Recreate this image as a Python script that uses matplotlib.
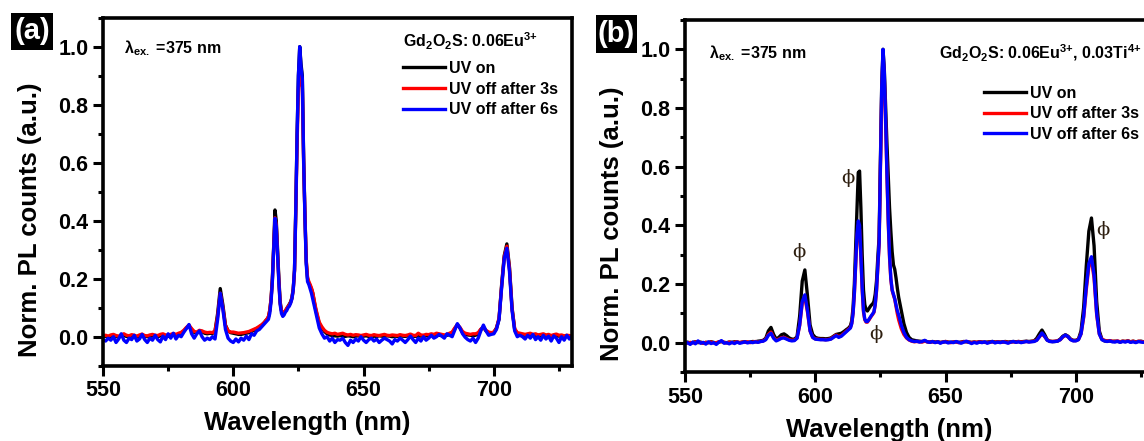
import numpy as np
import matplotlib
matplotlib.use("Agg")
import matplotlib.pyplot as plt
from matplotlib.patches import Rectangle
from matplotlib.ticker import MultipleLocator, FormatStrFormatter

plt.rcParams['font.family'] = ['Liberation Sans', 'DejaVu Sans']
plt.rcParams['font.weight'] = 'bold'
plt.rcParams['mathtext.default'] = 'regular'
plt.rcParams['axes.linewidth'] = 2.6

# Spectrometer sampling grid (nm): 1 nm steps, 0.5 nm across the 612-632 nm band
wavelength = np.concatenate([np.arange(550, 612.1, 1.0),
                             np.arange(612.5, 632.1, 0.5),
                             np.arange(633, 730.1, 1.0)])

series_labels = ['UV on', 'UV off after 3s', 'UV off after 6s']
series_colors = ['#000000', '#ff0000', '#0000ff']

# ---- (a) Gd2O2S:0.06Eu3+ ----
a_uv_on = [
    0.000, 0.002, -0.002, 0.001, 0.003, 0.000, -0.001, 0.002, 0.004, 0.001,
    0.000, 0.003, 0.002, -0.001, 0.001, 0.004, 0.002, 0.000, 0.001, 0.003,
    0.002, 0.000, 0.003, 0.005, 0.002, 0.001, 0.003, 0.006, 0.004, 0.008,
    0.012, 0.020, 0.030, 0.038, 0.025, 0.015, 0.012, 0.020, 0.018, 0.012,
    0.010, 0.012, 0.011, 0.020, 0.080, 0.166, 0.110, 0.040, 0.020, 0.014,
    0.012, 0.010, 0.008, 0.008, 0.010, 0.012, 0.014, 0.018, 0.022, 0.028,
    0.033, 0.040, 0.050,
    0.056, 0.060, 0.068, 0.090, 0.130, 0.200, 0.310, 0.437, 0.400, 0.300,
    0.200, 0.120, 0.090, 0.076, 0.080, 0.088, 0.096, 0.104, 0.112, 0.120,
    0.135, 0.165, 0.230, 0.450, 0.700, 0.900, 1.000, 0.940, 0.900, 0.620,
    0.420, 0.260, 0.200, 0.185, 0.175, 0.165, 0.150, 0.125, 0.100, 0.080,
    0.045, 0.030, 0.018, 0.010, 0.006, 0.004, 0.003, 0.002, 0.004, 0.002,
    0.001, 0.003, 0.002, 0.000, 0.002, 0.003, 0.001, 0.002, 0.003, 0.001,
    0.000, 0.002, 0.001, 0.003, 0.002, 0.001, 0.003, 0.002, 0.000, 0.002,
    0.001, 0.003, 0.002, 0.001, 0.003, 0.004, 0.002, 0.001, 0.003, 0.002,
    0.004, 0.003, 0.002, 0.005, 0.004, 0.006, 0.005, 0.004, 0.003, 0.005,
    0.007, 0.012, 0.028, 0.042, 0.030, 0.014, 0.008, 0.006, 0.005, 0.004,
    0.005, 0.010, 0.025, 0.032, 0.020, 0.012, 0.012, 0.015, 0.030, 0.060,
    0.180, 0.280, 0.320, 0.240, 0.100, 0.025, 0.010, 0.008, 0.006, 0.005,
    0.006, 0.004, 0.005, 0.003, 0.005, 0.004, 0.006, 0.003, 0.004, 0.002,
    0.004, 0.003, 0.002, 0.003, 0.001, 0.003, 0.002, 0.001,
]
a_off_3s = [
    0.003, 0.005, 0.002, 0.006, 0.008, 0.004, 0.002, 0.006, 0.010, 0.005,
    0.003, 0.007, 0.005, 0.002, 0.006, 0.009, 0.004, 0.003, 0.006, 0.008,
    0.005, 0.004, 0.008, 0.010, 0.006, 0.005, 0.008, 0.011, 0.008, 0.012,
    0.015, 0.022, 0.032, 0.040, 0.028, 0.018, 0.016, 0.022, 0.020, 0.016,
    0.014, 0.015, 0.014, 0.020, 0.070, 0.150, 0.100, 0.038, 0.020, 0.016,
    0.016, 0.014, 0.012, 0.013, 0.014, 0.016, 0.018, 0.022, 0.026, 0.030,
    0.036, 0.042, 0.050,
    0.056, 0.062, 0.070, 0.092, 0.130, 0.195, 0.300, 0.410, 0.385, 0.290,
    0.190, 0.115, 0.090, 0.080, 0.084, 0.090, 0.098, 0.104, 0.110, 0.118,
    0.132, 0.160, 0.225, 0.430, 0.670, 0.850, 0.930, 0.880, 0.860, 0.600,
    0.420, 0.265, 0.205, 0.190, 0.180, 0.168, 0.152, 0.128, 0.105, 0.085,
    0.050, 0.034, 0.022, 0.015, 0.012, 0.010, 0.012, 0.008, 0.010, 0.012,
    0.008, 0.006, 0.008, 0.005, 0.007, 0.006, 0.004, 0.006, 0.008, 0.005,
    0.004, 0.007, 0.005, 0.004, 0.006, 0.008, 0.005, 0.004, 0.006, 0.005,
    0.004, 0.007, 0.005, 0.004, 0.006, 0.009, 0.005, 0.004, 0.012, 0.006,
    0.005, 0.008, 0.007, 0.010, 0.008, 0.012, 0.010, 0.008, 0.006, 0.008,
    0.012, 0.016, 0.030, 0.040, 0.032, 0.018, 0.012, 0.010, 0.008, 0.010,
    0.010, 0.014, 0.026, 0.032, 0.022, 0.016, 0.014, 0.016, 0.028, 0.065,
    0.175, 0.275, 0.312, 0.235, 0.095, 0.028, 0.014, 0.012, 0.010, 0.008,
    0.010, 0.012, 0.008, 0.010, 0.006, 0.008, 0.010, 0.006, 0.008, 0.004,
    0.007, 0.009, 0.005, 0.006, 0.003, 0.005, 0.004, 0.002,
]
a_off_6s = [
    -0.010, -0.015, -0.005, -0.012, 0.000, -0.020, -0.008, 0.010, -0.012, -0.020,
    -0.005, -0.010, 0.005, -0.015, -0.008, 0.008, -0.010, -0.020, -0.005, -0.012,
    0.005, -0.010, -0.018, 0.002, -0.010, 0.010, -0.005, 0.012, -0.008, 0.005,
    0.000, 0.015, 0.028, 0.042, 0.010, -0.005, 0.010, 0.020, 0.000, -0.012,
    -0.005, -0.010, 0.000, -0.008, 0.060, 0.150, 0.095, 0.025, -0.005, -0.015,
    -0.020, -0.008, -0.018, -0.005, -0.012, 0.002, -0.010, 0.010, 0.005, 0.020,
    0.025, 0.035, 0.045,
    0.050, 0.055, 0.060, 0.080, 0.120, 0.190, 0.300, 0.408, 0.380, 0.285,
    0.185, 0.110, 0.080, 0.070, 0.075, 0.085, 0.090, 0.100, 0.105, 0.115,
    0.130, 0.160, 0.230, 0.440, 0.700, 0.900, 1.000, 0.930, 0.890, 0.610,
    0.410, 0.250, 0.190, 0.180, 0.165, 0.150, 0.130, 0.110, 0.090, 0.070,
    0.030, 0.010, -0.005, 0.000, -0.015, -0.005, -0.020, -0.010, -0.012, -0.005,
    -0.020, -0.030, -0.012, -0.020, -0.008, -0.015, 0.000, -0.012, -0.020, -0.010,
    -0.005, -0.015, -0.008, -0.020, -0.012, -0.005, -0.010, -0.015, -0.025, -0.010,
    -0.015, -0.005, -0.012, -0.020, -0.010, 0.002, -0.010, -0.020, -0.005, -0.015,
    0.000, -0.012, -0.005, 0.005, -0.005, 0.000, 0.008, 0.002, -0.005, 0.010,
    0.005, 0.000, 0.022, 0.045, 0.030, 0.010, -0.002, -0.010, -0.015, -0.005,
    -0.020, -0.005, 0.020, 0.040, 0.020, 0.005, 0.008, 0.010, 0.025, 0.060,
    0.170, 0.270, 0.305, 0.225, 0.090, 0.020, 0.000, 0.005, 0.000, -0.008,
    0.005, -0.005, 0.008, -0.010, 0.000, -0.012, 0.005, -0.008, 0.002, -0.015,
    0.003, -0.005, -0.020, 0.000, -0.012, 0.005, -0.008, 0.002,
]

# ---- (b) Gd2O2S:0.06Eu3+, 0.03Ti4+ ----
b_uv_on = [
    0.000, 0.002, -0.003, 0.001, 0.003, 0.000, 0.002, -0.002, 0.001, 0.000,
    0.003, 0.001, -0.002, 0.002, 0.004, 0.001, 0.000, 0.002, 0.001, 0.003,
    0.002, 0.000, 0.002, 0.003, 0.001, 0.002, 0.004, 0.003, 0.005, 0.006,
    0.008, 0.015, 0.040, 0.052, 0.028, 0.012, 0.018, 0.027, 0.030, 0.024,
    0.016, 0.012, 0.012, 0.020, 0.090, 0.210, 0.248, 0.160, 0.060, 0.028,
    0.018, 0.015, 0.014, 0.014, 0.013, 0.014, 0.016, 0.022, 0.028, 0.030,
    0.032, 0.038, 0.045,
    0.048, 0.052, 0.058, 0.075, 0.120, 0.200, 0.330, 0.470, 0.580, 0.585,
    0.460, 0.300, 0.180, 0.130, 0.112, 0.108, 0.115, 0.122, 0.128, 0.132,
    0.140, 0.165, 0.210, 0.290, 0.360, 0.620, 0.880, 1.000, 0.930, 0.800,
    0.680, 0.570, 0.460, 0.380, 0.310, 0.265, 0.250, 0.220, 0.185, 0.155,
    0.110, 0.065, 0.035, 0.018, 0.010, 0.008, 0.006, 0.005, 0.004, 0.006,
    0.003, 0.002, 0.004, 0.002, 0.003, 0.001, 0.002, 0.004, 0.002, 0.001,
    0.002, 0.003, 0.001, 0.002, 0.004, 0.003, 0.002, 0.001, 0.002, 0.001,
    0.003, 0.002, 0.001, 0.002, 0.003, 0.004, 0.002, 0.003, 0.002, 0.003,
    0.004, 0.002, 0.003, 0.004, 0.003, 0.004, 0.003, 0.004, 0.005, 0.004,
    0.005, 0.006, 0.015, 0.030, 0.043, 0.028, 0.010, 0.005, 0.004, 0.004,
    0.006, 0.012, 0.022, 0.027, 0.022, 0.012, 0.008, 0.008, 0.012, 0.040,
    0.120, 0.260, 0.380, 0.425, 0.330, 0.140, 0.040, 0.012, 0.006, 0.005,
    0.006, 0.004, 0.005, 0.004, 0.003, 0.005, 0.004, 0.006, 0.003, 0.005,
    0.003, 0.004, 0.005, 0.003, 0.004, 0.002, 0.003, 0.004,
]
b_off_3s = [
    0.000, -0.002, 0.001, -0.001, 0.002, 0.003, 0.000, -0.002, 0.001, 0.000,
    0.002, -0.001, 0.000, 0.003, 0.004, 0.001, -0.001, 0.002, 0.000, 0.001,
    0.003, 0.000, 0.002, 0.001, 0.003, 0.000, 0.002, 0.004, 0.002, 0.004,
    0.006, 0.012, 0.028, 0.036, 0.018, 0.008, 0.012, 0.017, 0.018, 0.014,
    0.010, 0.008, 0.009, 0.016, 0.058, 0.135, 0.155, 0.105, 0.040, 0.018,
    0.013, 0.012, 0.011, 0.011, 0.010, 0.011, 0.013, 0.020, 0.026, 0.021,
    0.024, 0.032, 0.040,
    0.044, 0.048, 0.052, 0.066, 0.100, 0.165, 0.260, 0.360, 0.400, 0.385,
    0.290, 0.180, 0.105, 0.078, 0.070, 0.070, 0.076, 0.083, 0.090, 0.096,
    0.103, 0.128, 0.175, 0.255, 0.335, 0.590, 0.850, 0.980, 0.900, 0.745,
    0.570, 0.410, 0.290, 0.215, 0.178, 0.162, 0.148, 0.122, 0.098, 0.078,
    0.048, 0.028, 0.016, 0.009, 0.005, 0.003, 0.004, 0.003, 0.002, 0.005,
    0.003, 0.002, 0.003, 0.001, 0.002, 0.000, 0.002, 0.004, 0.001, 0.000,
    0.002, 0.003, 0.000, 0.001, 0.003, 0.004, 0.002, 0.000, 0.002, 0.001,
    0.003, 0.001, 0.002, 0.000, 0.002, 0.003, 0.001, 0.003, 0.001, 0.002,
    0.003, 0.000, 0.002, 0.003, 0.002, 0.004, 0.002, 0.003, 0.004, 0.003,
    0.004, 0.005, 0.009, 0.020, 0.030, 0.021, 0.009, 0.005, 0.004, 0.005,
    0.006, 0.010, 0.019, 0.025, 0.020, 0.011, 0.007, 0.007, 0.011, 0.030,
    0.085, 0.180, 0.260, 0.282, 0.220, 0.095, 0.030, 0.012, 0.008, 0.006,
    0.007, 0.005, 0.004, 0.006, 0.003, 0.005, 0.004, 0.006, 0.003, 0.005,
    0.002, 0.005, 0.004, 0.003, 0.005, 0.003, 0.002, 0.004,
]
b_off_6s = [
    -0.003, 0.000, -0.006, 0.002, -0.004, 0.006, -0.002, 0.001, -0.005, 0.003,
    -0.003, 0.000, -0.006, 0.002, 0.007, -0.002, 0.000, -0.004, 0.001, -0.003,
    0.002, -0.002, 0.000, 0.003, -0.001, 0.002, 0.000, 0.003, 0.001, 0.004,
    0.005, 0.010, 0.025, 0.032, 0.015, 0.006, 0.010, 0.015, 0.016, 0.012,
    0.008, 0.006, 0.007, 0.015, 0.060, 0.140, 0.163, 0.110, 0.040, 0.018,
    0.012, 0.011, 0.010, 0.010, 0.009, 0.010, 0.012, 0.018, 0.024, 0.018,
    0.022, 0.030, 0.038,
    0.042, 0.046, 0.050, 0.065, 0.100, 0.170, 0.270, 0.370, 0.415, 0.400,
    0.300, 0.190, 0.110, 0.080, 0.072, 0.072, 0.078, 0.085, 0.092, 0.098,
    0.105, 0.130, 0.180, 0.260, 0.340, 0.600, 0.870, 1.000, 0.920, 0.760,
    0.580, 0.420, 0.300, 0.220, 0.180, 0.165, 0.150, 0.128, 0.108, 0.095,
    0.060, 0.035, 0.018, 0.010, 0.006, 0.004, 0.005, 0.002, 0.004, 0.008,
    0.003, 0.001, 0.004, 0.000, 0.003, -0.002, 0.002, 0.003, -0.001, 0.002,
    0.000, 0.004, 0.001, -0.002, 0.002, 0.005, 0.001, -0.003, 0.001, -0.002,
    0.002, 0.000, 0.003, -0.002, 0.001, 0.004, -0.001, 0.002, 0.000, 0.003,
    0.001, -0.002, 0.002, 0.004, 0.001, 0.003, 0.000, 0.002, 0.004, 0.002,
    0.003, 0.004, 0.008, 0.020, 0.033, 0.022, 0.008, 0.004, 0.003, 0.004,
    0.005, 0.010, 0.020, 0.026, 0.020, 0.010, 0.006, 0.006, 0.010, 0.030,
    0.090, 0.190, 0.270, 0.293, 0.230, 0.100, 0.030, 0.010, 0.006, 0.004,
    0.006, 0.003, 0.002, 0.005, 0.001, 0.004, 0.002, 0.005, 0.001, 0.003,
    0.000, 0.004, 0.002, 0.001, 0.004, 0.002, 0.000, 0.003,
]

# Peak markers (phi) in panel (b): wavelength, height
phi_wl = [593.6, 612.6, 623.3, 710.5]
phi_y = [0.31, 0.56, 0.03, 0.385]

W, H = 1144, 441
fig = plt.figure(figsize=(W / 100, H / 100), dpi=100)


def px_rect(x0, y0, x1, y1):
    """Figure-fraction rectangle from pixel corners (origin top-left)."""
    return [x0 / W, 1 - y1 / H, (x1 - x0) / W, (y1 - y0) / H]


def style_axes(ax, ax_h_px):
    ax.set_xlim(550, 730)
    ax.set_ylim(-0.1, 1.1)
    ax.xaxis.set_major_locator(MultipleLocator(50))
    ax.xaxis.set_minor_locator(MultipleLocator(25))
    ax.yaxis.set_major_locator(MultipleLocator(0.2))
    ax.yaxis.set_minor_locator(MultipleLocator(0.1))
    ax.yaxis.set_major_formatter(FormatStrFormatter('%.1f'))
    ax.xaxis.set_major_formatter(FormatStrFormatter('%d'))
    ax.tick_params(which='major', direction='out', length=7.5, width=2.2,
                   labelsize=15.5, pad=3)
    ax.tick_params(which='minor', direction='out', length=3.5, width=2.2)
    ax.tick_params(which='both', top=False, right=False)
    ax.set_xlabel('Wavelength (nm)', fontsize=18.5, fontweight='bold')
    ax.set_ylabel('Norm. PL counts (a.u.)', fontsize=18.5, fontweight='bold')
    ax.xaxis.set_label_coords(0.435, -57.6 / ax_h_px)
    ax.xaxis.label.set_va('center')
    ax.yaxis.set_label_coords(-73 / 469, 0.42)
    ax.yaxis.label.set_va('center')
    ax.yaxis.label.set_ha('center')


def panel_tag(x0, y0, x1, y1, text):
    fig.add_artist(Rectangle((x0 / W, 1 - y1 / H), (x1 - x0) / W, (y1 - y0) / H,
                             transform=fig.transFigure, facecolor='black',
                             edgecolor='none'))
    fig.text((x0 + x1) / 2 / W, 1 - (y0 + y1) / 2 / H, text, color='white',
             fontsize=21, fontweight='bold', ha='center', va='center')


def draw_panel(ax, curves, legend_xy):
    handles = []
    for y, lab, col in zip(curves, series_labels, series_colors):
        h, = ax.plot(wavelength, y, color=col, lw=2.4, label=lab)
        handles.append(h)
    ax.legend(handles=handles, loc='upper left',
              bbox_to_anchor=(legend_xy[0] / W, 1 - legend_xy[1] / H),
              bbox_transform=fig.transFigure, frameon=False, fontsize=11.5,
              handlelength=2.6, handletextpad=0.25, labelspacing=0.36,
              borderpad=0, borderaxespad=0)


# Panel (a)
ax_a = fig.add_axes(px_rect(103, 17.7, 572, 365.7))
draw_panel(ax_a, [a_uv_on, a_off_3s, a_off_6s], (403, 61))
style_axes(ax_a, 348)
fig.text(124.5 / W, 1 - 48.3 / H, 'λ$_{ex.}$ =375 nm', fontsize=11.5,
         ha='left', va='center')
fig.text(403 / W, 1 - 41.7 / H, 'Gd$_{2}$O$_{2}$S: 0.06Eu$^{3{+}}$',
         fontsize=11.5, ha='left', va='center')
panel_tag(11, 12.7, 53, 50, '(a)')

# Panel (b) (right edge runs past the figure)
ax_b = fig.add_axes(px_rect(685, 20, 1154, 372))
draw_panel(ax_b, [b_uv_on, b_off_3s, b_off_6s], (984, 85.5))
style_axes(ax_b, 352)
for wl, yv in zip(phi_wl, phi_y):
    ax_b.text(wl, yv, 'ϕ', fontsize=14, fontweight='normal',
              family=['DejaVu Serif'], color='#2e1f10',
              ha='center', va='center')
fig.text(708.8 / W, 1 - 53.3 / H, 'λ$_{ex.}$ =375 nm', fontsize=11.5,
         ha='left', va='center')
fig.text(939.3 / W, 1 - 53.3 / H,
         'Gd$_{2}$O$_{2}$S: 0.06Eu$^{3{+}}$, 0.03Ti$^{4{+}}$',
         fontsize=11.5, ha='left', va='center')
panel_tag(596, 15, 637, 52.7, '(b)')

fig.savefig('out.png', dpi=100)
